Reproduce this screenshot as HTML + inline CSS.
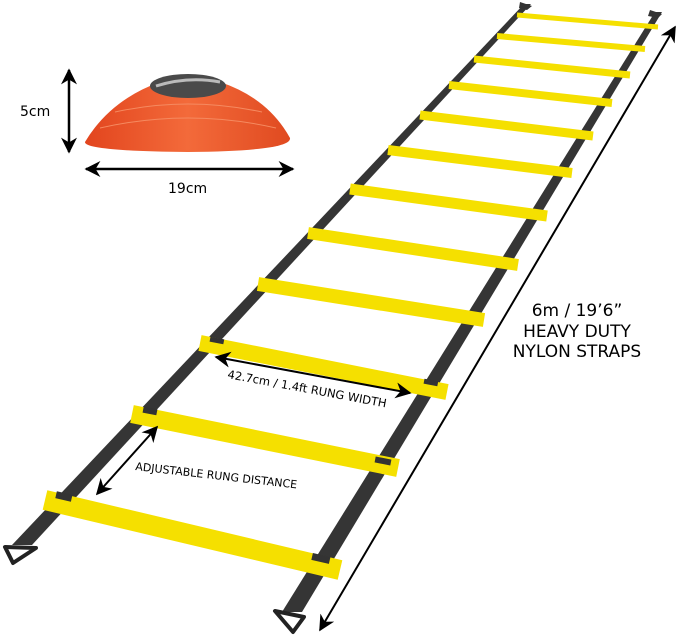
<!DOCTYPE html>
<html><head><meta charset="utf-8"><style>
html,body{margin:0;padding:0;background:#fff;}
svg{display:block;font-family:"DejaVu Sans","Liberation Sans",sans-serif;}
</style></head><body>
<svg width="679" height="638" viewBox="0 0 679 638" xmlns="http://www.w3.org/2000/svg">
<defs>
<linearGradient id="cone" x1="0" y1="0" x2="1" y2="0">
<stop offset="0" stop-color="#e2451e"/><stop offset="0.5" stop-color="#f36a3a"/><stop offset="1" stop-color="#e04a20"/>
</linearGradient>
<marker id="ahb" viewBox="0 0 10 10" refX="9" refY="5" markerWidth="16" markerHeight="16" orient="auto-start-reverse" markerUnits="userSpaceOnUse">
<path d="M0,0 L10,5 L0,10 L3,5 Z" fill="#000"/></marker>
</defs>

<!-- cone -->
<path d="M85,142 Q110,100 160,82 L220,82 Q268,98 290,138 Q292,151 188,152 Q84,151 85,142 Z" fill="url(#cone)"/>
<path d="M100,128 Q188,108 276,128" stroke="#f58a60" stroke-width="1" fill="none"/>
<path d="M115,112 Q188,96 262,112" stroke="#f58a60" stroke-width="1" fill="none"/>
<ellipse cx="188" cy="86" rx="38" ry="12" fill="#4a4a4a"/>
<path d="M156,86 Q188,76 220,82" stroke="#bbb" stroke-width="3" fill="none"/>

<!-- cone arrows -->
<line x1="69" y1="70" x2="69" y2="152" stroke="#000" stroke-width="2.5" marker-start="url(#ahb)" marker-end="url(#ahb)"/>
<line x1="86" y1="169" x2="293" y2="169" stroke="#000" stroke-width="2.5" marker-start="url(#ahb)" marker-end="url(#ahb)"/>
<text x="20" y="116" font-size="14">5cm</text>
<text x="168" y="193" font-size="14">19cm</text>

<!-- straps -->
<polygon points="524,4 531,4 32,545 12,545" fill="#353535"/>
<polygon points="655,12 662,12 302,612 282,612" fill="#353535"/>
<polygon points="520,2 532,6 527,10 519,8" fill="#333"/>
<polygon points="650,10 662,14 658,18 648,16" fill="#333"/>
<polygon points="5,547 36,548 13,563" fill="none" stroke="#222" stroke-width="4" stroke-linejoin="round"/>
<polygon points="275,611 304,617 293,632" fill="none" stroke="#222" stroke-width="4" stroke-linejoin="round"/>

<!-- rungs -->
<g stroke="#f5e000" stroke-linecap="butt" fill="none">
<line x1="517" y1="15" x2="658" y2="27" stroke-width="5"/>
<line x1="497" y1="36" x2="645" y2="49" stroke-width="6"/>
<line x1="474" y1="59" x2="630" y2="75" stroke-width="7"/>
<line x1="449" y1="85" x2="612" y2="103" stroke-width="8"/>
<line x1="420" y1="115" x2="593" y2="136" stroke-width="9"/>
<line x1="388" y1="150" x2="572" y2="173" stroke-width="10"/>
<line x1="350" y1="189" x2="547" y2="216" stroke-width="11"/>
<line x1="308" y1="233" x2="518" y2="265" stroke-width="12"/>
<line x1="258" y1="284" x2="484" y2="320" stroke-width="14"/>
<line x1="200" y1="343" x2="447" y2="392" stroke-width="16"/>
<line x1="132" y1="414" x2="398" y2="468" stroke-width="18"/>
<line x1="45" y1="500" x2="340" y2="570" stroke-width="20"/>
</g>
<g fill="#333">
<rect x="143" y="408" width="14" height="6" transform="rotate(11 150 411)"/>
<rect x="375" y="458" width="16" height="6" transform="rotate(11 383 461)"/>
<rect x="56" y="493" width="16" height="7" transform="rotate(13 64 496)"/>
<rect x="312" y="555" width="18" height="7" transform="rotate(13 321 558)"/>
<rect x="210" y="338" width="14" height="5" transform="rotate(11 217 340)"/>
<rect x="424" y="380" width="14" height="5" transform="rotate(11 431 382)"/>
</g>

<!-- long arrow -->
<line x1="320" y1="630" x2="675" y2="27" stroke="#000" stroke-width="2" marker-start="url(#ahb)" marker-end="url(#ahb)"/>
<text x="577" y="316" font-size="17" text-anchor="middle">6m / 19’6”</text>
<text x="577" y="337" font-size="17" text-anchor="middle">HEAVY DUTY</text>
<text x="577" y="357" font-size="17" text-anchor="middle">NYLON STRAPS</text>

<!-- rung width -->
<line x1="216" y1="357" x2="410" y2="393" stroke="#000" stroke-width="2" marker-start="url(#ahb)" marker-end="url(#ahb)"/>
<text x="227" y="378" font-size="11.5" transform="rotate(10.5 227 378)">42.7cm / 1.4ft  RUNG WIDTH</text>

<!-- adjustable -->
<line x1="157" y1="427" x2="97" y2="494" stroke="#000" stroke-width="2" marker-start="url(#ahb)" marker-end="url(#ahb)"/>
<text x="135" y="470" font-size="11" transform="rotate(6.5 135 470)">ADJUSTABLE RUNG DISTANCE</text>
</svg>
</body></html>
